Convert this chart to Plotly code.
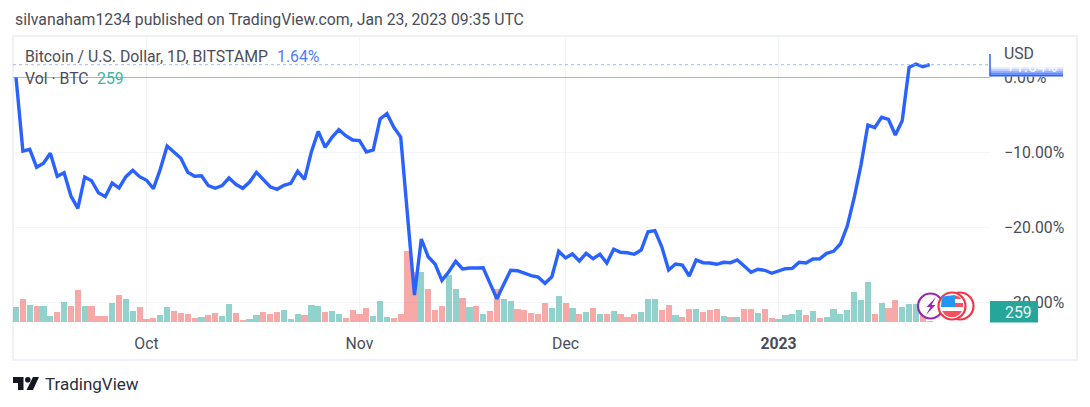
import pandas as pd
import plotly.graph_objects as go

W, H = 1090, 407

# BTC change in % against the scale origin, one value per day from 2022-09-12
price_pct = [
    -0.04, -9.87, -9.64, -12.04, -11.51, -10.17, -13.24, -12.76, -15.87, -17.51,
    -13.33, -13.83, -15.43, -15.96, -14.13, -14.80, -13.29, -12.44, -13.29, -13.77,
    -14.89, -12.31, -9.20, -10.00, -10.84, -12.71, -13.24, -13.16, -14.49, -14.84,
    -14.49, -13.47, -14.31, -14.84, -14.00, -12.71, -13.64, -14.63, -14.97, -14.44,
    -14.17, -12.57, -13.64, -9.96, -7.24, -9.37, -8.04, -7.03, -7.83, -8.40,
    -8.49, -10.00, -9.73, -5.60, -4.89, -6.71, -8.00, -18.40, -29.07, -21.60,
    -23.96, -24.93, -27.11, -25.96, -24.57, -25.60, -25.47, -25.47, -25.43, -27.51,
    -29.56, -27.64, -25.77, -25.83, -26.17, -26.49, -26.67, -27.51, -26.63, -23.24,
    -24.13, -23.60, -24.53, -23.51, -24.23, -23.64, -24.80, -22.97, -23.37, -23.43,
    -23.64, -23.07, -20.63, -20.49, -22.63, -25.73, -24.93, -25.07, -26.53, -24.40,
    -24.76, -24.80, -24.97, -24.71, -24.76, -24.40, -25.20, -26.04, -25.64, -25.77,
    -26.17, -25.91, -25.56, -25.51, -24.71, -24.80, -24.27, -24.23, -23.51, -23.24,
    -22.27, -19.87, -16.13, -11.73, -6.40, -6.76, -5.37, -5.64, -7.73, -5.83,
    1.29, 1.73, 1.37, 1.64,
]

volume = [
    2940, 4660, 3460, 3140, 3140, 1260, 2060, 4060, 3140, 6400,
    3140, 3140, 1260, 1260, 3860, 5340, 4540, 2200, 2940, 660,
    800, 1400, 2940, 2200, 1860, 1600, 800, 940, 1400, 1800,
    1140, 3600, 1800, 460, 660, 1400, 1940, 1600, 1940, 2400,
    660, 1600, 1400, 3400, 3240, 2000, 2200, 1560, 900, 2340,
    1540, 2800, 1240, 4200, 1060, 760, 1700, 14200, 10000, 9940,
    6660, 2340, 3200, 9460, 6660, 4800, 2940, 3200, 1660, 2140,
    6660, 4540, 4200, 2600, 2460, 1860, 1540, 3860, 2800, 5260,
    3860, 2800, 1540, 2000, 2800, 1660, 1540, 2140, 1540, 940,
    1540, 2000, 4600, 4600, 2340, 3400, 1400, 940, 2600, 2600,
    2000, 2340, 2600, 1200, 940, 940, 2600, 2600, 1800, 2600,
    800, 600, 1400, 1660, 2460, 1400, 2140, 740, 1060, 2600,
    1660, 2340, 6060, 4460, 8060, 1700, 3860, 2800, 4500, 2940,
    3600, 3600, 2400, 259,
]

# 1 = up day (green bar), 0 = down day (red bar)
vol_up = [
    1, 0, 1, 0, 1, 1, 0, 1, 0, 0,
    1, 0, 0, 0, 1, 0, 1, 1, 0, 0,
    0, 1, 1, 0, 0, 0, 0, 1, 0, 0,
    1, 1, 0, 0, 1, 1, 0, 0, 0, 1,
    1, 1, 0, 1, 1, 0, 1, 1, 0, 0,
    0, 0, 1, 1, 1, 0, 0, 0, 0, 1,
    0, 0, 0, 1, 1, 0, 1, 0, 1, 0,
    0, 1, 1, 0, 0, 0, 0, 0, 1, 1,
    0, 1, 0, 1, 0, 1, 0, 1, 0, 0,
    0, 1, 1, 1, 0, 0, 1, 0, 0, 1,
    0, 0, 0, 1, 0, 1, 0, 0, 1, 0,
    0, 1, 1, 1, 1, 0, 1, 0, 1, 1,
    1, 1, 1, 1, 1, 0, 1, 0, 0, 1,
    1, 1, 0, 1,
]

x_tick_dates = ['2022-10-01', '2022-11-01', '2022-12-01', '2023-01-01']
x_tick_labels = ['Oct', 'Nov', 'Dec', '<b>2023</b>']
y_tick_vals = [0, -10, -20, -30]
y_tick_labels = ['0.00%', '−10.00%', '−20.00%', '−30.00%']

FONT = 'Roboto'
FS = 15.8
TEXT = '#4a4d57'
GRID = '#f3f5fa'
BLUE = '#2962ff'
TEAL = '#26a69a'
FLAG_RED = '#f23645'

dates = pd.date_range('2022-09-12', periods=len(price_pct))


def px(x):
    return x / W


def py(y):
    return 1 - y / H


def box(x0, y0, x1, y1, **kw):
    return dict(type='rect', xref='paper', yref='paper', x0=px(x0), x1=px(x1), y0=py(y1), y1=py(y0), **kw)


def ring(cx, cy, r, **kw):
    return dict(type='circle', xref='paper', yref='paper', x0=px(cx - r), x1=px(cx + r), y0=py(cy + r), y1=py(cy - r), **kw)


def poly(points, color):
    path = 'M ' + ' L '.join(f'{px(a):.5f},{py(b):.5f}' for a, b in points) + ' Z'
    return dict(type='path', xref='paper', yref='paper', path=path, fillcolor=color, line=dict(width=0))


def label(x, y, text, color=TEXT, size=FS, anchor='left', **kw):
    return dict(x=px(x), y=py(y), xref='paper', yref='paper', text=text, showarrow=False, xanchor=anchor,
                yanchor='middle', align='left', font=dict(family=FONT, size=size, color=color), borderpad=0, **kw)


fig = go.Figure()

fig.add_trace(go.Bar(x=dates, y=volume, width=0.9 * 86400000, yaxis='y', name='Vol',
                     marker=dict(color=['rgba(38,166,154,.5)' if u else 'rgba(239,83,80,.5)' for u in vol_up],
                                 line=dict(width=0))))
fig.add_trace(go.Scatter(x=dates, y=price_pct, yaxis='y2', mode='lines', name='BTCUSD',
                         line=dict(color=BLUE, width=3.4)))

shapes = [
    # outer frame
    box(13, 36, 1077, 360, line=dict(color='#eff1f8', width=2), layer='below'),
    # last value dotted line
    dict(type='line', xref='x domain', yref='y2', x0=0, x1=1, y0=price_pct[-1], y1=price_pct[-1],
         line=dict(color='#8aa6ff', width=0.8, dash='dot')),
    # hides the top of the 0.00% tick label, the last value label sits on it
    box(990, 62, 1064, 76.5, fillcolor='white', line=dict(width=0)),
]

# last value label: fades from white to blue
for k in range(6):
    shapes.append(box(990, 65 + k * 1.9, 1063, 66.9 + k * 1.9, fillcolor=BLUE, opacity=(k / 5) ** 1.4,
                      line=dict(width=0), layer='above'))
shapes.append(dict(type='line', xref='paper', yref='paper', x0=px(990), x1=px(990), y0=py(76.5), y1=py(54),
                   line=dict(color=BLUE, width=1.5)))
# volume last value box
shapes.append(box(990, 301, 1038, 322.5, fillcolor=TEAL, line=dict(width=0), layer='above'))

# event icons
shapes.append(ring(960, 306, 13.5, fillcolor='white', line=dict(color=FLAG_RED, width=2.2)))
shapes.append(ring(930.5, 306, 12.5, fillcolor='white', line=dict(color='#9c27b0', width=2.2)))
shapes.append(poly([(936, 297), (926.5, 307), (930.5, 307), (926, 315), (935.5, 305), (931.5, 305)], '#9c27b0'))
shapes.append(ring(952, 306, 13.5, fillcolor='white', line=dict(color=FLAG_RED, width=2.2)))
shapes.append(poly([(942, 296.5), (955, 295), (955, 307), (941, 307), (941.5, 300)], '#2196f3'))
shapes.append(poly([(955, 295.5), (959, 296.5), (961, 299), (955, 299)], '#f7525f'))
shapes.append(poly([(955, 303), (963, 303), (963, 307), (955, 307)], '#f7525f'))
shapes.append(poly([(942, 311), (962, 311), (959, 315), (955, 317), (949, 317), (945, 315)], '#f7525f'))

# TradingView logo
shapes.append(poly([(13, 377), (23.5, 377), (23.5, 390), (18, 390), (18, 383), (13, 383)], '#131722'))
shapes.append(ring(27.8, 379.8, 2.8, fillcolor='#131722', line=dict(width=0)))
shapes.append(poly([(33, 377), (39, 377), (33, 390), (26.5, 390)], '#131722'))

annotations = [
    label(14, 20, 'silvanaham1234 published on TradingView.com, Jan 23, 2023 09:35 UTC'),
    label(24, 56, 'Bitcoin / U.S. Dollar, 1D, BITSTAMP'),
    label(276, 56, '1.64%', color='#4d7cff'),
    label(24, 78, 'Vol · BTC'),
    label(96, 78, '259', color='#3fb3a5'),
    label(1003, 53, 'USD'),
    label(1005, 66, '+1.64%', color='white'),
    label(1004, 312, '259', color='#e6f5f3'),
    label(44, 384, 'TradingView', color='#2a2e39', size=17),
]

fig.update_layout(
    width=W, height=H, autosize=False,
    margin=dict(l=0, r=0, t=0, b=0),
    paper_bgcolor='white', plot_bgcolor='white',
    showlegend=False, bargap=0,
    font=dict(family=FONT, size=FS, color=TEXT),
    xaxis=dict(domain=[px(13), px(990)], type='date',
               range=['2022-09-11 13:30', '2023-01-31 18:43'],
               tickmode='array', tickvals=x_tick_dates, ticktext=x_tick_labels,
               showgrid=True, gridcolor=GRID, gridwidth=1, zeroline=False, showline=False,
               ticks='', ticklabelstandoff=3, tickfont=dict(family=FONT, size=FS, color=TEXT)),
    yaxis=dict(domain=[py(329), py(36)], range=[-1400, 57200], visible=False, fixedrange=True),
    yaxis2=dict(domain=[py(329), py(36)], overlaying='y', side='right', anchor='x',
                range=[-33.6, 5.467], tickmode='array', tickvals=y_tick_vals, ticktext=y_tick_labels,
                showgrid=True, gridcolor=GRID, gridwidth=1, zeroline=True, zerolinecolor='#b2b5be',
                zerolinewidth=1, showline=False, ticks='', ticklabelstandoff=13,
                tickfont=dict(family=FONT, size=FS, color=TEXT)),
    shapes=shapes,
    annotations=annotations,
)

fig.write_html('out.html', config={'displayModeBar': False},
               post_script="document.body.style.margin='0';")
